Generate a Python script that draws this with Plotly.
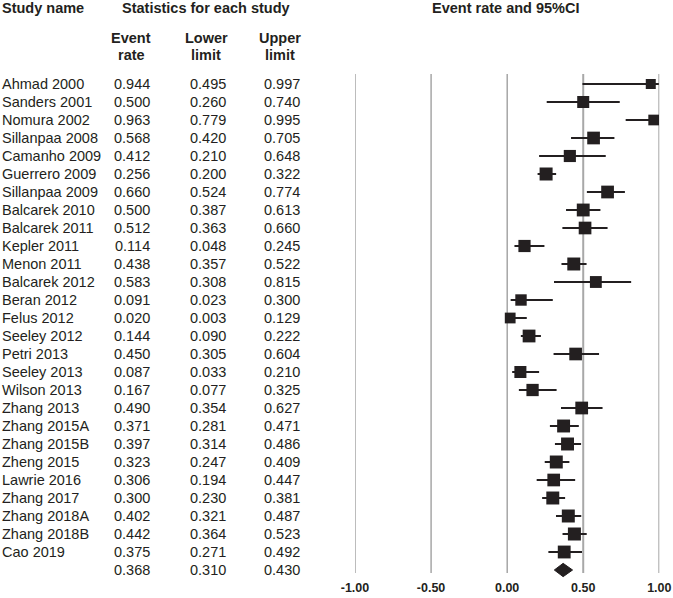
import plotly.graph_objects as go
import numpy as np

studies = ["Ahmad 2000", "Sanders 2001", "Nomura 2002", "Sillanpaa 2008", "Camanho 2009",
           "Guerrero 2009", "Sillanpaa 2009", "Balcarek 2010", "Balcarek 2011", "Kepler 2011",
           "Menon 2011", "Balcarek 2012", "Beran 2012", "Felus 2012", "Seeley 2012",
           "Petri 2013", "Seeley 2013", "Wilson 2013", "Zhang 2013", "Zhang 2015A",
           "Zhang 2015B", "Zheng 2015", "Lawrie 2016", "Zhang 2017", "Zhang 2018A",
           "Zhang 2018B", "Cao 2019"]
event_rate = [0.944, 0.500, 0.963, 0.568, 0.412, 0.256, 0.660, 0.500, 0.512, 0.114,
              0.438, 0.583, 0.091, 0.020, 0.144, 0.450, 0.087, 0.167, 0.490, 0.371,
              0.397, 0.323, 0.306, 0.300, 0.402, 0.442, 0.375]
lower_limit = [0.495, 0.260, 0.779, 0.420, 0.210, 0.200, 0.524, 0.387, 0.363, 0.048,
               0.357, 0.308, 0.023, 0.003, 0.090, 0.305, 0.033, 0.077, 0.354, 0.281,
               0.314, 0.247, 0.194, 0.230, 0.321, 0.364, 0.271]
upper_limit = [0.997, 0.740, 0.995, 0.705, 0.648, 0.322, 0.774, 0.613, 0.660, 0.245,
               0.522, 0.815, 0.300, 0.129, 0.222, 0.604, 0.210, 0.325, 0.627, 0.471,
               0.486, 0.409, 0.447, 0.381, 0.487, 0.523, 0.492]
summary_rate, summary_lower, summary_upper = 0.368, 0.310, 0.430
x_ticks = [-1.0, -0.5, 0.0, 0.5, 1.0]
x_ticktext = ["-1.00", "-0.50", "0.00", "0.50", "1.00"]

W, H = 673, 598
FONT = "Liberation Sans Narrow, Arial Narrow, Liberation Sans, Arial, sans-serif"
FS = 14.5
INK = "#231f20"

n = len(studies)
rows = list(range(n))
sum_row = n

# marker sizes from random-effects style weights (logit scale)
lg = lambda p: np.log(p / (1 - p))
se = (lg(np.array(upper_limit)) - lg(np.array(lower_limit))) / 3.92
w = 1 / (se ** 2 + 0.8)
sizes = 10 + 3 * (w - w.min()) / (w.max() - w.min())

fig = go.Figure()

fig.add_trace(go.Scatter(
    x=event_rate, y=rows, mode="markers",
    marker=dict(symbol="square", size=sizes, color=INK, opacity=1, line=dict(width=0)),
    error_x=dict(type="data", symmetric=False,
                 array=[u - r for u, r in zip(upper_limit, event_rate)],
                 arrayminus=[r - l for r, l in zip(event_rate, lower_limit)],
                 color=INK, thickness=2.2, width=0),
    cliponaxis=False, showlegend=False, hoverinfo="skip"))

dh = 0.37
fig.add_trace(go.Scatter(
    x=[summary_lower, summary_rate, summary_upper, summary_rate, summary_lower],
    y=[sum_row, sum_row - dh, sum_row, sum_row + dh, sum_row],
    mode="lines", fill="toself", fillcolor=INK, line=dict(color=INK, width=1),
    cliponaxis=False, showlegend=False, hoverinfo="skip"))

def hy(pxy):
    return 1 - pxy / H

# reference lines
for t in x_ticks:
    light = t > 0.25
    fig.add_shape(type="line", xref="x", yref="paper", x0=t, x1=t, y0=hy(573), y1=hy(74),
                  line=dict(color="#a8a8a8" if light else "#7a7a7a", width=2 if light else 1),
                  layer="below")

# y geometry: row 0 at px 84, 18 px per row, domain px 60..578
top_px, bot_px, row0_px, step = 60, 578, 84, 18
r_top = (top_px - row0_px) / step
r_bot = (bot_px - row0_px) / step

fig.update_layout(
    width=W, height=H, margin=dict(l=0, r=0, t=0, b=0, autoexpand=False),
    plot_bgcolor="white", paper_bgcolor="white",
    font=dict(family=FONT, size=FS, color=INK),
    xaxis=dict(domain=[355 / W, 659.3 / W], range=[-1, 1], showgrid=False, zeroline=False,
               showline=False, tickvals=x_ticks, ticktext=x_ticktext, ticks="",
               automargin=False,
               tickfont=dict(family=FONT, size=12.5, color=INK, weight="bold")),
    yaxis=dict(domain=[1 - bot_px / H, 1 - top_px / H], range=[r_bot, r_top],
               showgrid=False, zeroline=False, showline=False, showticklabels=False,
               automargin=False),
)

def px(x):
    return x / W

ann = []
def add(text, x, y, xanchor, yref="y", bold=False):
    ann.append(dict(text=f"<b>{text}</b>" if bold else text, x=px(x), xref="paper",
                    y=y, yref=yref, xanchor=xanchor, yanchor="middle", showarrow=False,
                    font=dict(family=FONT, size=FS, color=INK)))

for i, s in enumerate(studies):
    add(s, 0, i, "left")
    add(f"{event_rate[i]:.3f}", 152, i, "right")
    add(f"{lower_limit[i]:.3f}", 228, i, "right")
    add(f"{upper_limit[i]:.3f}", 302, i, "right")
add(f"{summary_rate:.3f}", 152, sum_row, "right")
add(f"{summary_lower:.3f}", 228, sum_row, "right")
add(f"{summary_upper:.3f}", 302, sum_row, "right")

add("Study name", 0, hy(8), "left", yref="paper", bold=True)
add("Statistics for each study", 206, hy(8), "center", yref="paper", bold=True)
add("Event rate and 95%CI", 505, hy(8), "center", yref="paper", bold=True)
add("Event", 131, hy(38), "center", yref="paper", bold=True)
add("rate", 131, hy(55), "center", yref="paper", bold=True)
add("Lower", 206, hy(38), "center", yref="paper", bold=True)
add("limit", 206, hy(55), "center", yref="paper", bold=True)
add("Upper", 280, hy(38), "center", yref="paper", bold=True)
add("limit", 280, hy(55), "center", yref="paper", bold=True)

fig.update_layout(annotations=ann)
fig.write_html("out.html", config={"displayModeBar": False, "staticPlot": True},
               post_script="document.body.style.margin='0';")
